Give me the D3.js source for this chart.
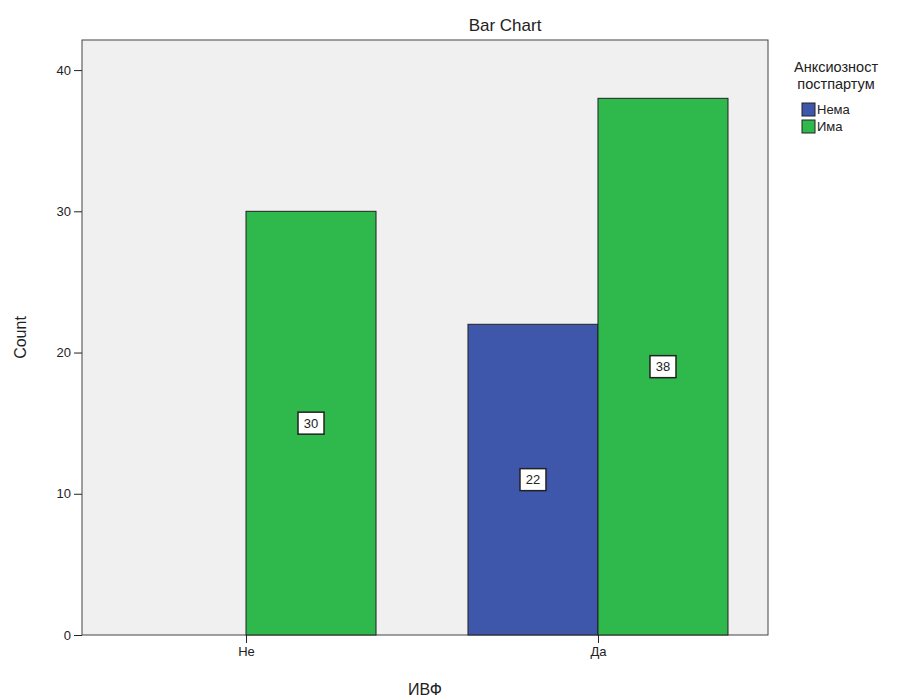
<!DOCTYPE html>
<html><head><meta charset="utf-8">
<script src="https://cdn.jsdelivr.net/npm/d3@7"></script>
<style>body{margin:0;background:#fff}svg{font-family:"Liberation Sans",Arial,sans-serif}</style>
</head><body><svg id="c" width="900" height="700"></svg>
<script>
const categories = ["Не", "Да"];
const seriesNames = ["Нема", "Има"];
const nemaValues = [0, 22];
const imaValues = [30, 38];
const yTicks = [0, 10, 20, 30, 40];
const colors = ["#3e57ab", "#2fb84c"];

const svg = d3.select("#c");
const L = 82, R = 768, T = 40, B = 635;
const y = d3.scaleLinear().domain([0, 42.13]).range([B, T]);
const x = d3.scalePoint().domain(categories).range([L, R - 6]).padding(0.466);
const sub = d3.scaleBand().domain(seriesNames).range([-130, 130]).padding(0);

svg.append("rect").attr("x", L).attr("y", T).attr("width", R - L).attr("height", B - T)
  .attr("fill", "#f0f0f0").attr("stroke", "#444").attr("stroke-width", 1);

const data = [];
categories.forEach((c, i) => {
  data.push({cat: c, s: seriesNames[0], v: nemaValues[i], ci: 0});
  data.push({cat: c, s: seriesNames[1], v: imaValues[i], ci: 1});
});
const bars = data.filter(d => d.v > 0);
svg.selectAll("rect.bar").data(bars).enter().append("rect").attr("class", "bar")
  .attr("x", d => x(d.cat) + sub(d.s))
  .attr("y", d => y(d.v))
  .attr("width", sub.bandwidth())
  .attr("height", d => y(0) - y(d.v))
  .attr("fill", d => colors[d.ci]).attr("stroke", "#222").attr("stroke-width", 1);

// value labels
const lab = svg.selectAll("g.lab").data(bars).enter().append("g").attr("class", "lab")
  .attr("transform", d => `translate(${x(d.cat) + sub(d.s) + sub.bandwidth() / 2},${y(d.v / 2)})`);
lab.append("rect").attr("x", -13).attr("y", -11).attr("width", 26).attr("height", 22)
  .attr("fill", "#fff").attr("stroke", "#222").attr("stroke-width", 1.5);
lab.append("text").attr("text-anchor", "middle").attr("dy", "0.36em")
  .attr("font-size", 13).attr("fill", "#222").text(d => d.v);

// axes
const yAxis = svg.append("g").attr("transform", `translate(${L},0)`)
  .call(d3.axisLeft(y).tickValues(yTicks).tickSize(8).tickPadding(3));
yAxis.select(".domain").remove();
yAxis.selectAll("line").attr("stroke", "#222");
yAxis.selectAll("text").attr("font-size", 13).attr("fill", "#222").attr("font-family", "Liberation Sans, Arial");

const xAxis = svg.append("g").attr("transform", `translate(0,${B})`)
  .call(d3.axisBottom(x).tickSize(8).tickPadding(4));
xAxis.select(".domain").remove();
xAxis.selectAll("line").attr("stroke", "#222");
xAxis.selectAll("text").attr("font-size", 13).attr("fill", "#222").attr("font-family", "Liberation Sans, Arial");

// titles
svg.append("text").attr("x", 505).attr("y", 31).attr("text-anchor", "middle")
  .attr("font-size", 17).attr("fill", "#222").text("Bar Chart");
svg.append("text").attr("x", (L + R) / 2).attr("y", 695).attr("text-anchor", "middle")
  .attr("font-size", 16).attr("fill", "#222").text("ИВФ");
svg.append("text").attr("transform", `translate(26,${(T + B) / 2}) rotate(-90)`).attr("text-anchor", "middle")
  .attr("font-size", 16).attr("fill", "#222").text("Count");

// legend
const lg = svg.append("g");
lg.append("text").attr("x", 836).attr("y", 72).attr("text-anchor", "middle").attr("font-size", 14.5).attr("fill", "#222").text("Анксиозност");
lg.append("text").attr("x", 836).attr("y", 89).attr("text-anchor", "middle").attr("font-size", 14.5).attr("fill", "#222").text("постпартум");
seriesNames.forEach((s, i) => {
  lg.append("rect").attr("x", 802).attr("y", 103 + i * 17).attr("width", 13).attr("height", 13)
    .attr("fill", colors[i]).attr("stroke", "#222").attr("stroke-width", 1);
  lg.append("text").attr("x", 817).attr("y", 114 + i * 17).attr("font-size", 13).attr("fill", "#222").text(s);
});
</script></body></html>
